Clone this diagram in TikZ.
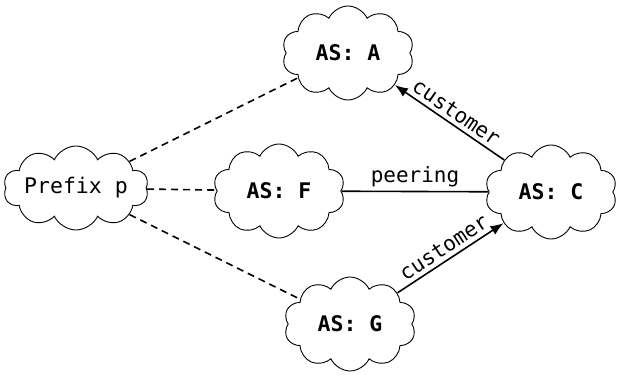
\documentclass[tikz,border=0pt]{standalone}
\usepackage{fontspec}
\setmonofont{DejaVu Sans Mono}
\usetikzlibrary{shapes.symbols,arrows.meta}
\begin{document}
\begin{tikzpicture}[x=1pt,y=1pt,
  asbox/.style={cloud, draw, line width=0.9pt, cloud puffs=10, cloud puff arc=130,
    cloud ignores aspect, minimum width=132pt, minimum height=94pt,
    font=\fontsize{21.5}{25}\selectfont\ttfamily\bfseries, inner sep=0pt},
  prefbox/.style={asbox, minimum width=142pt, minimum height=84pt,
    font=\fontsize{21.5}{25}\selectfont\ttfamily},
  lbl/.style={font=\fontsize{21}{25}\selectfont\ttfamily, inner sep=4pt},
  link/.style={line width=1.6pt},
  route/.style={line width=1.6pt, dashed, dash pattern=on 7pt off 5pt},
  rel/.style={link, -{Latex[length=13pt,width=10pt]}}]
\useasboundingbox (0,0) rectangle (617,378);

\node[prefbox] (P) at (76,190) {Prefix p};
\node[asbox] (A) at (348,325) {AS: A};
\node[asbox] (F) at (279,187) {AS: F};
\node[asbox] (C) at (551,186) {AS: C};
\node[asbox] (G) at (350,54) {AS: G};

% routes announced for the prefix
\draw[route] (P) -- (A);
\draw[route] (P) -- (F);
\draw[route] (P) -- (G);

% business relationships between the ASes
\draw[link] (F) -- node[lbl, above] {peering} (C);
\draw[rel] (C) -- node[lbl, sloped, above] {customer} (A);
\draw[rel] (G) -- node[lbl, sloped, above] {customer} (C);
\end{tikzpicture}
\end{document}
